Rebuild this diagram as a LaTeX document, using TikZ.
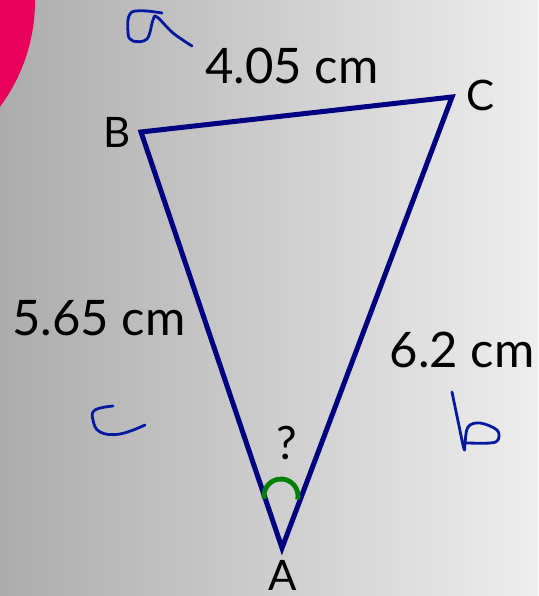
\documentclass[tikz,border=0pt]{standalone}
\usepackage{fontspec}
\setmainfont{Lato}
\definecolor{navyline}{RGB}{0,0,128}
\definecolor{penblue}{RGB}{5,25,160}
\definecolor{pinkdisc}{RGB}{232,0,90}
\definecolor{arcgreen}{RGB}{0,128,0}
\definecolor{bgleft}{RGB}{172,172,172}
\definecolor{bgright}{RGB}{238,238,238}
\tikzset{
  side/.style={draw=navyline, line width=5pt, line join=miter},
  pen/.style={draw=penblue, line width=2.8pt, line cap=round, line join=round},
  lbl/.style={font=\fontsize{49}{52}\selectfont, inner sep=0pt},
  vtx/.style={font=\fontsize{42}{44}\selectfont, inner sep=0pt},
}
\begin{document}
\begin{tikzpicture}[x=1pt,y=1pt]
\useasboundingbox (0,0) rectangle (538,596);
\shade[left color=bgleft, right color=bgright] (0,0) rectangle (538,596);
\begin{scope}
\clip (0,0) rectangle (538,596);
\fill[pinkdisc] (-142,595) circle (177);
\end{scope}
\coordinate (A) at (282,48);
\coordinate (B) at (141,464);
\coordinate (C) at (452,499);
\draw[side] (A) -- (B) -- (C) -- cycle;
\draw[draw=arcgreen, line width=4.8pt] (281,100) ++(190:17) arc (190:-12:17);
\node[vtx] (lA) at (283,21) {A};
\node[vtx] (lB) at (117,464) {B};
\node[vtx] (lC) at (481,501) {C};
\node[font=\fontsize{46}{48}\selectfont, inner sep=0pt] (q) at (287,153) {?};
\node[lbl] (a1) at (292,530) {4.05 cm};
\node[lbl] (c1) at (99,278) {5.65 cm};
\node[lbl] (b1) at (462,246) {6.2 cm};
\draw[pen] plot[smooth, tension=0.6] coordinates {(162,583) (132,584) (128,563) (133,555) (147,557) (153,576) (157,579) (173,563) (192,550)};
\draw[pen] plot[smooth, tension=0.7] coordinates {(113,190) (95,186) (93,176) (100,164) (120,162) (145,171)};
\draw[pen] plot[smooth, tension=0.6] coordinates {(452,204) (458,175) (464,147) (465,153) (468,169) (480,173) (497,166) (498,156) (490,153) (467,153)};
\end{tikzpicture}
\end{document}
